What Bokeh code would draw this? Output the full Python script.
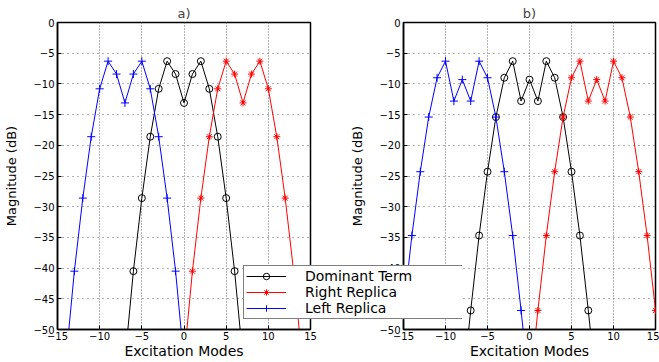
from bokeh.plotting import figure
from bokeh.layouts import row
from bokeh.models import Legend, LegendItem, FixedTicker, Range1d
from bokeh.embed import file_html
from bokeh.resources import INLINE

# ---------------- data: panel a) ----------------
modes_dom_a = [-7, -6, -5, -4, -3, -2, -1, 0, 1, 2, 3, 4, 5, 6, 7]
dom_a = [-55, -40.5, -28.6, -18.6, -10.8, -6.3, -8.4, -13.1, -8.4, -6.3, -10.8, -18.6, -28.6, -40.5, -55]
modes_right_a = [0, 1, 2, 3, 4, 5, 6, 7, 8, 9, 10, 11, 12, 13, 14]
right_a = [-55, -40.5, -28.6, -18.6, -10.8, -6.3, -8.4, -13.1, -8.4, -6.3, -10.8, -18.6, -28.6, -40.5, -55]
modes_left_a = [-14, -13, -12, -11, -10, -9, -8, -7, -6, -5, -4, -3, -2, -1, 0]
left_a = [-55, -40.5, -28.6, -18.6, -10.8, -6.3, -8.4, -13.1, -8.4, -6.3, -10.8, -18.6, -28.6, -40.5, -55]

# ---------------- data: panel b) ----------------
modes_dom_b = [-8, -7, -6, -5, -4, -3, -2, -1, 0, 1, 2, 3, 4, 5, 6, 7, 8]
dom_b = [-60, -46.9, -34.7, -24.3, -15.4, -9.0, -6.3, -12.8, -9.3, -12.8, -6.3, -9.0, -15.4, -24.3, -34.7, -46.9, -60]
modes_right_b = [0, 1, 2, 3, 4, 5, 6, 7, 8, 9, 10, 11, 12, 13, 14, 15, 16]
right_b = [-60, -46.9, -34.7, -24.3, -15.4, -9.0, -6.3, -12.8, -9.3, -12.8, -6.3, -9.0, -15.4, -24.3, -34.7, -46.9, -60]
modes_left_b = [-16, -15, -14, -13, -12, -11, -10, -9, -8, -7, -6, -5, -4, -3, -2, -1, 0]
left_b = [-60, -46.9, -34.7, -24.3, -15.4, -9.0, -6.3, -12.8, -9.3, -12.8, -6.3, -9.0, -15.4, -24.3, -34.7, -46.9, -60]

x_ticks = [-15, -10, -5, 0, 5, 10, 15]
y_ticks = [0, -5, -10, -15, -20, -25, -30, -35, -40, -45, -50]
x_tick_labels = {t: (("\u2212" + str(-t)) if t < 0 else str(t)) for t in x_ticks}
y_tick_labels = {t: (("\u2212" + str(-t)) if t < 0 else str(t)) for t in y_ticks}
legend_labels = ["Dominant Term", "Right Replica", "Left Replica"]

FONT = "DejaVu Sans"

STYLES = [
    dict(color="black", marker="circle", size=7, fill=None),
    dict(color="red", marker="asterisk", size=7, fill="red"),
    dict(color="blue", marker="cross", size=8, fill="blue"),
]


def make_fig(title, width, mbl, mbr):
    p = figure(width=width, height=362, x_range=Range1d(-15, 15), y_range=Range1d(-50, 0),
               output_backend="svg", toolbar_location=None, title=title,
               min_border_left=mbl, min_border_right=mbr, min_border_top=22, min_border_bottom=33)
    p.title.align = "center"
    p.title.text_font = FONT
    p.title.text_font_size = "13px"
    p.title.text_font_style = "normal"
    p.title.standoff = 4
    p.background_fill_color = "white"
    p.border_fill_color = "white"
    p.outline_line_color = "black"
    p.outline_line_width = 1.5
    for ax, ticks, labels in ((p.xaxis, x_ticks, x_tick_labels), (p.yaxis, y_ticks, y_tick_labels)):
        ax.ticker = FixedTicker(ticks=ticks)
        ax.major_label_overrides = labels
        ax.major_tick_in = 4
        ax.major_tick_out = 0
        ax.minor_tick_line_color = None
        ax.axis_line_color = "black"
        ax.axis_line_width = 1.5
        ax.major_tick_line_color = "black"
        ax.major_label_text_font = FONT
        ax.major_label_text_font_size = "10px"
        ax.major_label_text_color = "black"
        ax.axis_label_text_font = FONT
        ax.axis_label_text_font_style = "normal"
        ax.axis_label_text_color = "black"
    p.xaxis.axis_label = "Excitation Modes"
    p.xaxis.axis_label_text_font_size = "14px"
    p.xaxis.major_label_standoff = 2
    p.xaxis.axis_label_standoff = 0
    p.yaxis.axis_label = "Magnitude (dB)"
    p.yaxis.axis_label_text_font_size = "13px"
    p.yaxis.major_label_standoff = 3
    p.yaxis.axis_label_standoff = 11
    p.xgrid.grid_line_color = "#666666"
    p.xgrid.grid_line_dash = "1 2"
    p.ygrid.grid_line_color = "#666666"
    p.ygrid.grid_line_dash = "1 4"
    return p


def draw(p, series):
    out = []
    for (xs, ys), st in zip(series, STYLES):
        ln = p.line(xs, ys, line_color=st["color"], line_width=1)
        sc = p.scatter(xs, ys, marker=st["marker"], size=st["size"], line_color=st["color"],
                       fill_color=st["fill"], line_width=1)
        out.append((ln, sc))
    return out


pa = make_fig("a)", 330, 57, 20)
draw(pa, [(modes_dom_a, dom_a), (modes_right_a, right_a), (modes_left_a, left_a)])

pb = make_fig("b)", 329, 73, 4)
draw(pb, [(modes_dom_b, dom_b), (modes_right_b, right_b), (modes_left_b, left_b)])

# transparent overlay figure that carries the shared legend across both panels
pl = figure(width=219, height=362, x_range=Range1d(0, 1), y_range=Range1d(0, 1),
            x_axis_type=None, y_axis_type=None, output_backend="svg", toolbar_location=None,
            min_border=0, min_border_left=0, min_border_right=0, min_border_top=0, min_border_bottom=0)
pl.background_fill_color = None
pl.border_fill_color = None
pl.outline_line_color = None
pl.grid.visible = False
nan = float("nan")
items = []
for lab, st in zip(legend_labels, STYLES):
    ln = pl.line([nan], [nan], line_color=st["color"], line_width=1)
    sc = pl.scatter([nan], [nan], marker=st["marker"], size=st["size"], line_color=st["color"],
                    fill_color=st["fill"], line_width=1)
    items.append(LegendItem(label=lab, renderers=[ln, sc]))
legend = Legend(items=items, location=(0, 10))
legend.label_text_font = FONT
legend.label_text_font_size = "14px"
legend.label_text_color = "black"
legend.padding = 2
legend.spacing = 0
legend.margin = 0
legend.glyph_width = 40
legend.glyph_height = 16
legend.label_height = 16
legend.label_width = 156
legend.label_standoff = 19
legend.border_line_color = "black"
legend.border_line_width = 1.2
legend.background_fill_color = "white"
legend.background_fill_alpha = 1
pl.add_layout(legend)
pl.margin = (0, 0, 0, -416)

layout = row(pa, pb, pl)
open("out.html", "w").write(file_html(layout, INLINE))
